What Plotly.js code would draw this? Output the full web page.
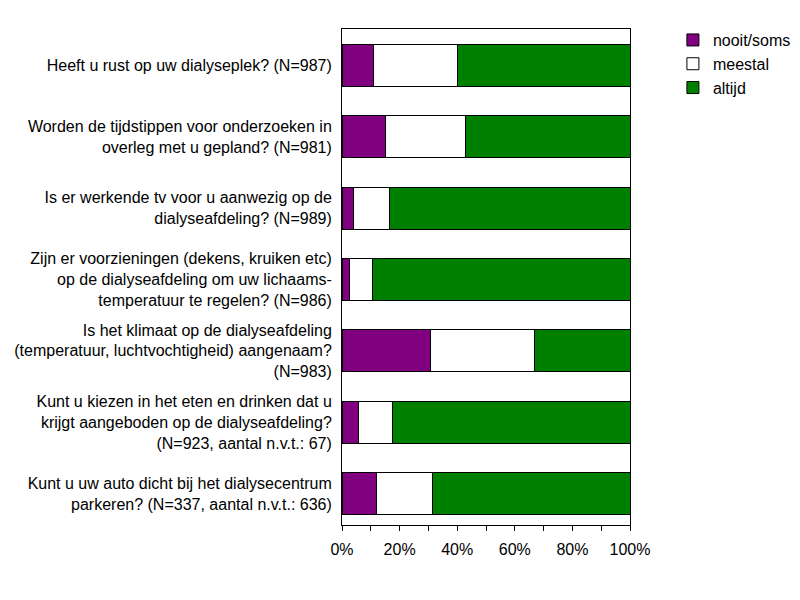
<!DOCTYPE html>
<html>
<head>
<meta charset="utf-8">
<script src="https://cdn.plot.ly/plotly-3.0.1.min.js"></script>
<style>html,body{margin:0;padding:0;background:#fff;}#chart{width:800px;height:600px;}</style>
</head>
<body>
<div id="chart"></div>
<script>
const categories = [
  "Heeft u rust op uw dialyseplek? (N=987)",
  "Worden de tijdstippen voor onderzoeken in<br>overleg met u gepland? (N=981)",
  "Is er werkende tv voor u aanwezig op de<br>dialyseafdeling? (N=989)",
  "Zijn er voorzieningen (dekens, kruiken etc)<br>op de dialyseafdeling om uw lichaams-<br>temperatuur te regelen? (N=986)",
  "Is het klimaat op de dialyseafdeling<br>(temperatuur, luchtvochtigheid) aangenaam?<br>(N=983)",
  "Kunt u kiezen in het eten en drinken dat u<br>krijgt aangeboden op de dialyseafdeling?<br>(N=923, aantal n.v.t.: 67)",
  "Kunt u uw auto dicht bij het dialysecentrum<br>parkeren? (N=337, aantal n.v.t.: 636)"
];
const seriesNames = ["nooit/soms", "meestal", "altijd"];
const nooitSoms = [10.9, 15.0, 3.9, 2.7, 30.7, 5.8, 11.9];
const meestal   = [29.1, 27.8, 12.5, 7.8, 36.1, 11.7, 19.5];
const altijd    = [60.0, 57.2, 83.6, 89.5, 33.2, 82.5, 68.6];
const colors = ["#800080", "#ffffff", "#008000"];
const xTickVals = [0, 20, 40, 60, 80, 100];
const xTickText = ["0%", "20%", "40%", "60%", "80%", "100%"];

const seriesValues = [nooitSoms, meestal, altijd];
const font = {family: "Liberation Sans, Arial, sans-serif", size: 16, color: "#000"};

const data = seriesValues.map((vals, i) => ({
  type: "bar",
  orientation: "h",
  name: seriesNames[i],
  y: categories,
  x: vals,
  width: 0.59,
  marker: {color: colors[i], line: {color: "#000", width: 1}},
  hoverinfo: "x+name"
}));

const layout = {
  width: 800, height: 600,
  barmode: "stack",
  paper_bgcolor: "#fff",
  plot_bgcolor: "#fff",
  font: font,
  margin: {l: 342, r: 170, t: 29, b: 75, pad: 0, autoexpand: false},
  showlegend: true,
  legend: {
    x: 1.149, xanchor: "left", y: 1.012, yanchor: "top",
    font: {family: font.family, size: 16, color: "#000"},
    bgcolor: "rgba(0,0,0,0)", borderwidth: 0,
    traceorder: "normal", tracegroupgap: 0, itemwidth: 30
  },
  xaxis: {
    range: [0, 100],
    tickvals: xTickVals, ticktext: xTickText,
    ticks: "outside", ticklen: 5, tickcolor: "#000", tickwidth: 1,
    minor: {dtick: 10, ticks: "outside", ticklen: 5, tickcolor: "#000", tickwidth: 1, showgrid: false},
    showgrid: false, zeroline: false,
    showline: true, linecolor: "#000", linewidth: 1, mirror: true,
    ticklabelstandoff: 5,
    automargin: false,
    fixedrange: true
  },
  yaxis: {
    type: "category",
    categoryorder: "array", categoryarray: categories,
    range: [6.44, -0.51],
    ticks: "", showgrid: false, zeroline: false,
    showline: true, linecolor: "#000", linewidth: 1, mirror: true,
    ticklabelstandoff: 6,
    automargin: false,
    fixedrange: true
  }
};

Plotly.newPlot("chart", data, layout, {displayModeBar: false, staticPlot: true});
</script>
</body>
</html>
